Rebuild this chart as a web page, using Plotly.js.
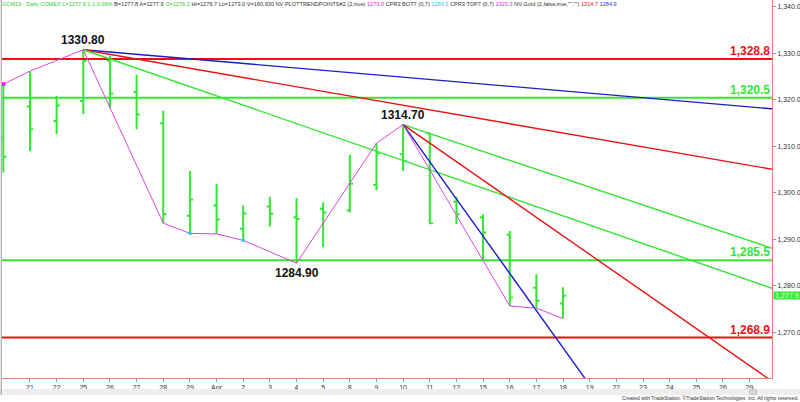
<!DOCTYPE html>
<html>
<head>
<meta charset="utf-8">
<script src="https://cdn.plot.ly/plotly-3.0.1.min.js"></script>
<style>html,body{margin:0;padding:0;background:#fff;}#chart{width:800px;height:402px;}</style>
</head>
<body>
<div id="chart"></div>
<script>
// ---- data ----
var dates = ['20','21','22','25','26','27','28','29','Apr','2','3','4','5','8','9','10','11','12','15','16','17','18','19','22','23','24','25','26','29'];
var barIdx = [-1,0,1,2,3,4,5,6,7,8,9,10,11,12,13,14,15,16,17,18,19,20];
var opens  = [1311.8,1318.6,1315.5,1319.8,1328.5,1321.7,1315.0,1295.1,1297.3,1292.3,1297.1,1294.8,1296.6,1296.2,1301.7,1308.3,1312.8,1298.1,1294.8,1291.0,1279.6,1276.2];
var highs  = [1323.6,1326.2,1320.9,1330.8,1329.5,1325.4,1317.7,1304.7,1301.9,1297.3,1299.2,1298.9,1298.0,1308.2,1310.7,1314.7,1313.0,1299.2,1295.4,1291.8,1282.5,1279.7];
var lows   = [1304.4,1309.0,1312.7,1317.0,1318.2,1313.7,1293.5,1291.3,1291.2,1289.8,1292.8,1284.9,1288.3,1295.8,1300.6,1304.7,1293.3,1293.3,1285.7,1275.7,1275.2,1273.0];
var closes = [1307.8,1313.7,1318.8,1328.4,1321.4,1316.9,1295.4,1298.6,1294.3,1295.6,1295.5,1294.4,1295.8,1302.0,1308.5,1306.9,1293.5,1295.4,1291.5,1277.5,1276.8,1277.9];

// swing/pivot line (magenta)
var pivotIdx   = [-1,0,2,5,6,7,8,10,13,14,18,19,20];
var pivotPrice = [1323.4,1326.2,1330.8,1293.5,1291.3,1291.2,1289.8,1284.9,1310.7,1314.7,1275.7,1275.2,1273.0];
// CPR bottom points (cyan) and top point (magenta)
var cprBotIdx = [6,8];
var cprBotPrice = [1291.3,1289.8];
var cprTopIdx = [-1];
var cprTopPrice = [1323.4];

// trend lines: start idx, start price, end idx, end price
var trendNames = ['blue1','red1','greenA','greenB','red2','blue2'];
var trendX0 = [2,2,2,14,14,14];
var trendY0 = [1330.8,1330.8,1330.8,1314.7,1314.7,1314.7];
var trendX1 = [27.84,27.84,27.84,27.84,27.84,22];
var trendY1 = [1318.1,1305.1,1279.5,1288.1,1259.5,1250.7];
var trendColors = ['#1c1cc8','#e81414','#33e633','#33e633','#e81414','#1c1cc8'];

// horizontal levels
var levels = [1328.8,1320.5,1285.5,1268.9];
var levelLabels = ['1,328.8','1,320.5','1,285.5','1,268.9'];
var levelColors = ['#e81414','#33e633','#33e633','#e81414'];

// pivot labels
var pivLabelIdx = [2,14,10];
var pivLabelPrice = [1330.8,1314.7,1284.9];
var pivLabelText = ['1330.80','1314.70','1284.90'];
var pivLabelPos = ['top','top','bottom'];

var yTicks = [1270,1280,1290,1300,1310,1320,1330,1340];
var yTickText = ['1,270.0','1,280.0','1,290.0','1,300.0','1,310.0','1,320.0','1,330.0','1,340.0'];
var lastPrice = 1277.9;
var lastPriceText = '1,277.9';

// ---- build ----
var GREEN = '#33e633';
var xTickVals = [], xTickText = [];
for (var i = 1; i < dates.length; i++) { xTickVals.push(i - 1); xTickText.push(dates[i]); }

var traces = [];
levels.forEach(function(lv, k){
  traces.push({type:'scatter', mode:'lines', x:[-1.05,27.84], y:[lv,lv],
    line:{color:levelColors[k], width:2}, hoverinfo:'skip'});
});
trendNames.forEach(function(n,k){
  traces.push({type:'scatter', mode:'lines', x:[trendX0[k],trendX1[k]], y:[trendY0[k],trendY1[k]],
    line:{color:trendColors[k], width:1.4}, hoverinfo:'skip'});
});
traces.push({type:'scatter', mode:'lines', x:pivotIdx, y:pivotPrice, line:{color:'#dd44dd', width:1}, hoverinfo:'skip'});
traces.push({type:'ohlc', x:barIdx, open:opens, high:highs, low:lows, close:closes,
  increasing:{line:{color:GREEN, width:2}}, decreasing:{line:{color:GREEN, width:2}},
  tickwidth:0.12, hoverinfo:'skip'});
traces.push({type:'scatter', mode:'markers', x:cprBotIdx, y:cprBotPrice, marker:{color:'#22ccee', size:3, symbol:'square'}, hoverinfo:'skip'});
traces.push({type:'scatter', mode:'markers', x:cprTopIdx, y:cprTopPrice, marker:{color:'#ee22ee', size:4, symbol:'square'}, hoverinfo:'skip'});

var ann = [];
levels.forEach(function(lv,k){
  ann.push({xref:'paper', yref:'y', x:1, y:lv, xanchor:'right', yanchor:'bottom', yshift:-1, showarrow:false,
    text:'<b>'+levelLabels[k]+'</b>', font:{family:'Liberation Sans, Arial', size:12, color:levelColors[k]}});
});
pivLabelIdx.forEach(function(ix,k){
  ann.push({xref:'x', yref:'y', x:ix, y:pivLabelPrice[k], xanchor:'center',
    yanchor: pivLabelPos[k]==='top' ? 'bottom':'top', yshift: pivLabelPos[k]==='top' ? 1 : -1, showarrow:false,
    text:'<b>'+pivLabelText[k]+'</b>', font:{family:'Liberation Sans, Arial', size:12, color:'#111'}});
});
ann.push({xref:'paper', yref:'y', x:1, y:lastPrice, xanchor:'left', yanchor:'middle', xshift:1, showarrow:false,
  text:lastPriceText, bgcolor:'#33ee33', font:{family:'Liberation Sans, Arial', size:7, color:'#eaffea'}, borderpad:0, width:26});
function sp(t,c){ return '<span style="color:'+c+'">'+t+'</span>'; }
var hdr = sp('GCM19 - Daily COMEX L=1277.9 1.1 0.09%', '#33cc33') + ' ' +
  sp('B=1277.8 A=1277.9', '#333') + ' ' + sp('O=1276.2', '#33cc33') + ' ' +
  sp('Hi=1279.7 Lo=1273.0 V=160,930 NV PLOTTRENDPOINTS#2 (2,true)', '#333') + ' ' +
  sp('1273.0', '#dd22dd') + ' ' + sp('CPR3 BOT7 (0,7)', '#333') + ' ' + sp('1289.5', '#22ccee') + ' ' +
  sp('CPR3 TOP7 (0,7)', '#333') + ' ' + sp('1323.3', '#dd22dd') + ' ' +
  sp('NV Gold (2,false,true,"","")', '#333') + ' ' + sp('1314.7', '#e81414') + ' ' + sp('1284.9', '#3333cc');
ann.push({xref:'paper', yref:'paper', x:0, y:1, xanchor:'left', yanchor:'top', xshift:-1, yshift:0, showarrow:false,
  text:hdr, font:{family:'Liberation Sans, Arial', size:5.6, color:'#333'}, borderpad:0});
ann.push({xref:'paper', yref:'paper', x:1, y:0, xanchor:'right', yanchor:'middle', xshift:28, yshift:-20, showarrow:false,
  text:'Created with TradeStation. ©TradeStation Technologies, Inc. All rights reserved.',
  font:{family:'Liberation Sans, Arial', size:5, color:'#333'}, borderpad:0});

var shapes = [
  {type:'rect', xref:'paper', yref:'paper', x0:-0.003, x1:1.037, y0:-0.029, y1:-0.045, fillcolor:'#eeeeee', line:{width:0}},
  {type:'rect', xref:'paper', yref:'paper', x0:0.971, x1:0.980, y0:-0.031, y1:-0.044, fillcolor:'#d8d8d8', line:{color:'#aaa', width:0.5}},
  {type:'line', xref:'paper', yref:'paper', x0:-0.001, x1:-0.001, y0:1, y1:-0.045, line:{color:'#999', width:1}}
];

var layout = {
  width:800, height:402,
  margin:{l:2, r:28, t:0, b:24, pad:0},
  paper_bgcolor:'#fff', plot_bgcolor:'#fff',
  showlegend:false,
  xaxis:{range:[-1.05,27.84], tickmode:'array', tickvals:xTickVals, ticktext:xTickText,
    ticks:'outside', ticklen:3, tickcolor:'#999', showgrid:false, zeroline:false,
    showline:true, linecolor:'#e48080', linewidth:1,
    tickfont:{family:'Liberation Sans, Arial', size:7, color:'#333'}, rangeslider:{visible:false}, fixedrange:true},
  yaxis:{side:'right', range:[1260.2,1341.5], tickmode:'array', tickvals:yTicks, ticktext:yTickText,
    ticks:'outside', ticklen:3, tickcolor:'#999', showgrid:false, zeroline:false,
    showline:true, linecolor:'#e48080', linewidth:1,
    tickfont:{family:'Liberation Sans, Arial', size:7, color:'#333'}, fixedrange:true},
  annotations:ann, shapes:shapes
};
Plotly.newPlot('chart', traces, layout, {displayModeBar:false, staticPlot:true});
</script>
</body>
</html>
